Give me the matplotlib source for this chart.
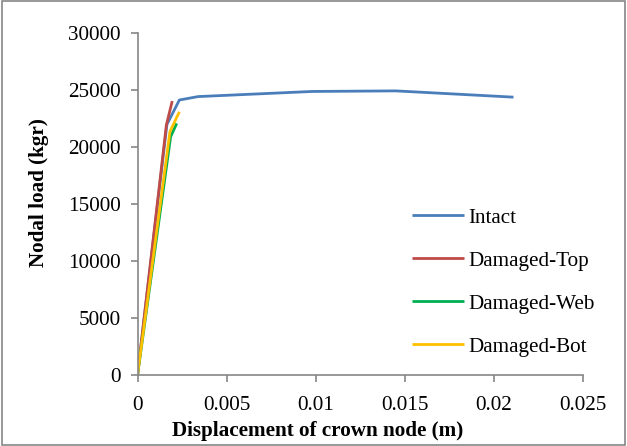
import matplotlib
matplotlib.use("Agg")
import matplotlib.pyplot as plt
from matplotlib.patches import Rectangle

plt.rcParams['font.family'] = ['Liberation Serif', 'DejaVu Serif']

intact_x = [0, 0.00165, 0.00235, 0.0034, 0.0098, 0.0145, 0.0211]
intact_y = [0, 22000, 24150, 24450, 24900, 24950, 24400]
top_x = [0, 0.00162, 0.00195]
top_y = [0, 21960, 24060]
web_x = [0, 0.00186, 0.0022]
web_y = [0, 20930, 22100]
bot_x = [0, 0.00182, 0.00235]
bot_y = [0, 21370, 23120]

labels = ["Intact", "Damaged-Top", "Damaged-Web", "Damaged-Bot"]
colors = ["#4A7EBB", "#BE4B48", "#00B050", "#FFC000"]
xticks = [0, 0.005, 0.01, 0.015, 0.02, 0.025]
xticklabels = ["0", "0.005", "0.01", "0.015", "0.02", "0.025"]
yticks = [0, 5000, 10000, 15000, 20000, 25000, 30000]

fig = plt.figure(figsize=(6.27, 4.46), dpi=100)
ax = fig.add_axes([0.2193, 0.1585, 0.7105, 0.7668])

series = [(intact_x, intact_y), (top_x, top_y), (web_x, web_y), (bot_x, bot_y)]
for (xs, ys), lab, c in zip(series, labels, colors):
    ax.plot(xs, ys, color=c, lw=2.0, label=lab, solid_capstyle='butt')

ax.set_xlim(0, 0.025)
ax.set_ylim(0, 30000)
ax.set_xticks(xticks)
ax.set_xticklabels(xticklabels)
ax.set_yticks(yticks)
for s in ['top', 'right']:
    ax.spines[s].set_visible(False)
for s in ['left', 'bottom']:
    ax.spines[s].set_color('#868686')
    ax.spines[s].set_linewidth(1.2)
ax.tick_params(axis='both', colors='#868686', labelcolor='black', labelsize=15.2,
               length=5, width=1.2, direction='out')
ax.tick_params(axis='x', pad=10)
ax.tick_params(axis='y', pad=7)
ax.set_xlabel("Displacement of crown node (m)", fontsize=15.2, fontweight='bold', labelpad=8)
ax.xaxis.set_label_coords(0.405, -0.135)
ax.set_ylabel("Nodal load (kgr)", fontsize=15.2, fontweight='bold', labelpad=11)
ax.yaxis.set_label_coords(-0.199, 0.5345)

leg = ax.legend(loc='upper left', bbox_to_anchor=(412/627, 1 - 208/446),
                bbox_transform=fig.transFigure, frameon=False, fontsize=15.2,
                handlelength=2.45, handletextpad=0.2, labelspacing=1.1, borderpad=0,
                borderaxespad=0)

fig.patches.append(Rectangle((0.003, 0.003), 0.994, 0.994, transform=fig.transFigure,
                             fill=False, edgecolor='#868686', lw=1.2))

fig.savefig("out.png", dpi=100)
